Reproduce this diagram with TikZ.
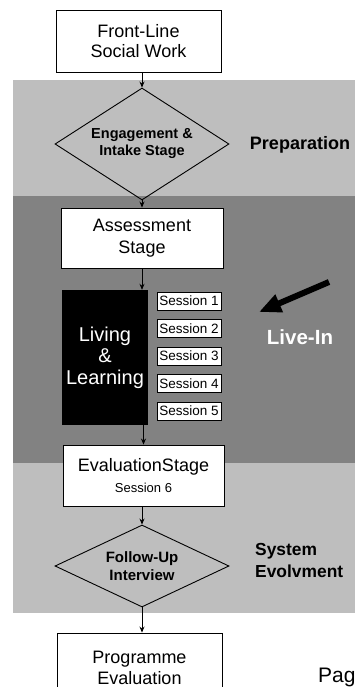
\documentclass[tikz,border=0pt]{standalone}
\usepackage{fontspec}
\setmainfont{Liberation Sans}
\usetikzlibrary{shapes.geometric,arrows.meta}
\definecolor{lightband}{HTML}{BEBEBE}
\definecolor{darkband}{HTML}{828282}
\begin{document}
\begin{tikzpicture}[x=1pt,y=-1pt,
  box/.style={draw=black, line width=0.9pt, fill=white, inner sep=0pt, align=center, font=\fontsize{18}{20.5}\selectfont},
  sess/.style={draw=black, line width=0.6pt, fill=white, minimum width=64pt, minimum height=18pt, inner sep=0pt, font=\fontsize{13.5}{15}\selectfont},
  dia/.style={diamond, draw=black, line width=0.9pt, inner sep=0pt, align=center, font=\bfseries\fontsize{14.5}{17}\selectfont},
  arr/.style={-{Stealth[length=6pt,width=5pt]}, line width=0.8pt},
  side/.style={font=\bfseries\fontsize{18}{22}\selectfont, align=left, inner sep=0pt}]
\clip (0,0) rectangle (355,687);
\fill[white] (0,0) rectangle (355,687);
% bands
\fill[lightband] (13,80) rectangle (355,196);
\fill[darkband] (13,196) rectangle (355,463);
\fill[lightband] (13,463) rectangle (355,613);
% main column
\node[box, minimum width=165pt, minimum height=62pt] (fl) at (138.5,41) {Front-Line\\Social Work};
\node[dia, aspect=1.6, minimum width=174pt, minimum height=112pt] (d1) at (142,144) {Engagement \&\\Intake Stage};
\node[box, minimum width=162pt, minimum height=60pt, font=\fontsize{18}{22}\selectfont] (as) at (142,238) {Assessment\\Stage};
\node[fill=black, minimum width=86pt, minimum height=135pt, inner sep=0pt, text=white, align=center, font=\fontsize{20}{21.5}\selectfont] (ll) at (105,357.5) {Living\\\&\\Learning};
\foreach \i in {1,...,5} {
  \node[sess] (s\i) at (189,{301+27.5*(\i-1)}) {Session \i};
}
\node[box, minimum width=161pt, minimum height=61pt] (ev) at (143.5,475.5) {EvaluationStage\\{\fontsize{13}{15}\selectfont Session 6}};
\node[dia, aspect=2.1, minimum width=174pt, minimum height=82pt, font=\bfseries\fontsize{15}{18}\selectfont] (d2) at (142,566) {Follow-Up\\Interview};
\node[box, minimum width=165pt, minimum height=70pt] (pe) at (139.5,668) {Programme\\Evaluation};
% side labels
\node[side] (prep) at (300,145) {Preparation};
\node[font=\bfseries\fontsize{20.5}{22}\selectfont, text=white, inner sep=0pt] (live) at (300,337) {Live-In};
\node[side, anchor=west, font=\bfseries\fontsize{17.4}{22}\selectfont] (sys) at (255,561) {System\\Evolvment};
\node[anchor=base west, inner sep=0pt, font=\fontsize{21}{24}\selectfont] (pag) at (318,682) {Pag};
% big arrow
\coordinate (bt) at (329,282);
\coordinate (bh) at (259,312);
\draw[line width=6pt, -{Triangle[length=22pt,width=18pt]}] (bt) -- (bh);
% connectors
\draw[arr] (fl.south -| d1.north) -- (d1.north);
\draw[arr] (d1.south) -- (as.north);
\draw[arr] (as.south) -- (as.south |- ll.north);
\draw[arr] (ev.north |- ll.south) -- (ev.north);
\draw[arr] (ev.south -| d2.north) -- (d2.north);
\draw[arr] (d2.south) -- (d2.south |- pe.north);
\end{tikzpicture}
\end{document}
